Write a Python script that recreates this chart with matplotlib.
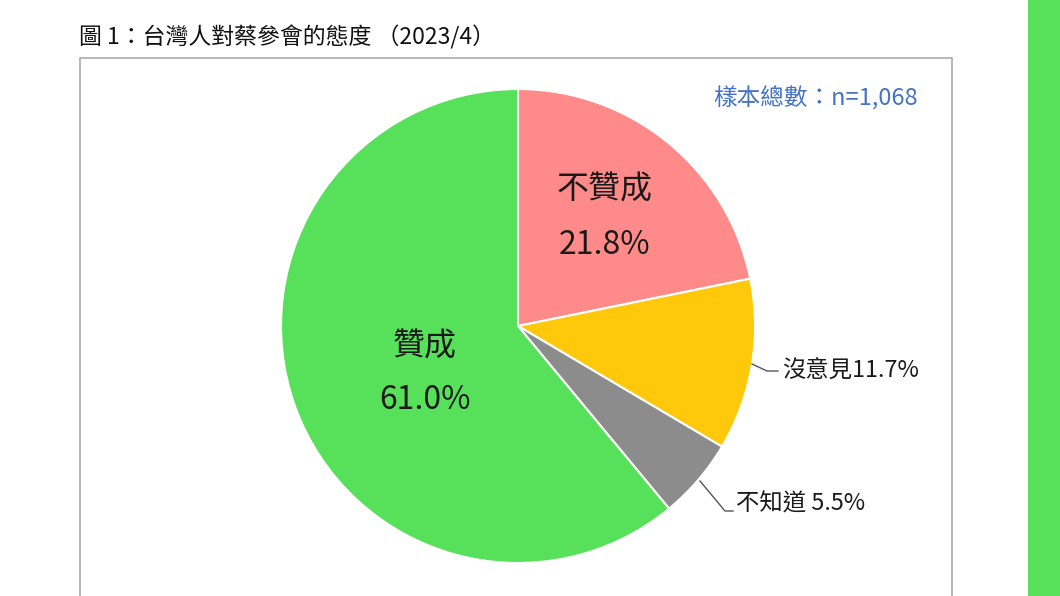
import matplotlib
matplotlib.use('Agg')
import matplotlib.pyplot as plt
from matplotlib.patches import Rectangle

plt.rcParams['font.family'] = ['Noto Sans CJK TC', 'DejaVu Sans']

# データ
labels = ['不贊成', '沒意見', '不知道', '贊成']
values = [21.8, 11.7, 5.5, 61.0]
colors = ['#FF8A8A', '#FFC80A', '#8C8C8C', '#57E05A']
title = '圖 1：台灣人對蔡參會的態度 （2023/4）'
sample_text = '樣本總數：n=1,068'

W, H = 1060, 596
fig = plt.figure(figsize=(W / 100, H / 100), dpi=100)
ax = fig.add_axes([0, 0, 1, 1])

# 円グラフ (ピクセル座標、y は下から)
cx, cy, r = 518, H - 326, 237
wedges, _ = ax.pie(values, colors=colors, startangle=90, counterclock=False,
                   center=(cx, cy), radius=r,
                   wedgeprops=dict(edgecolor='white', linewidth=1.5))

ax.set_xlim(0, W)
ax.set_ylim(0, H)
ax.set_aspect('auto')
ax.axis('off')

# 枠
ax.add_patch(Rectangle((80, -10), 872, H - 58 + 10, fill=False,
                       edgecolor='#AAAAAA', linewidth=1.2))
# 右端の緑の帯
ax.add_patch(Rectangle((1028, 0), 32, H, color='#57E05A', linewidth=0))

# タイトル
ax.text(79, H - 37, title, fontsize=16.5, color='#111111', va='center', ha='left')
ax.text(918, H - 98, sample_text, fontsize=17, color='#4472C4', va='center', ha='right',
        fontweight='medium')

# 内側のラベル
txt = dict(fontsize=23, color='#1a1a1a', ha='center', va='center', fontweight='medium')
ax.text(605, H - 190, labels[0], **txt)
ax.text(605, H - 245, f'{values[0]:.1f}%', **txt)
ax.text(425, H - 347, labels[3], **txt)
ax.text(425, H - 400, f'{values[3]:.1f}%', **txt)

# 外側のラベルと引き出し線
ax.plot([752, 767, 778], [H - 364, H - 371, H - 371], color='#555555', linewidth=1)
ax.text(782, H - 371, f'{labels[1]}{values[1]:.1f}%', fontsize=16.8, color='#1a1a1a',
        ha='left', va='center', fontweight='medium')
ax.plot([700, 725, 733], [H - 481, H - 511, H - 511], color='#555555', linewidth=1)
ax.text(736, H - 504, f'{labels[2]} {values[2]:.1f}%', fontsize=16.8, color='#1a1a1a',
        ha='left', va='center', fontweight='medium')

fig.savefig('out.png', dpi=100, facecolor='white')
